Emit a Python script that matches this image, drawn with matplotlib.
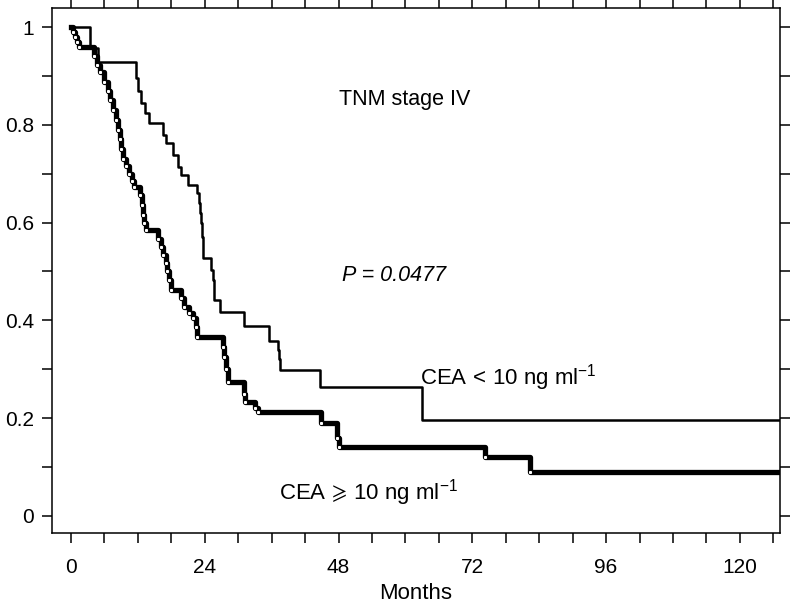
import matplotlib
matplotlib.use("Agg")
import matplotlib.pyplot as plt
from matplotlib import font_manager as fm
from matplotlib.ticker import MultipleLocator


# CEA < 10 ng/ml (thin curve): event times (months) and survival after each step
low_times = [0, 3.4, 4.8, 11.6, 12.0, 12.6, 13.2, 14.0, 16.5, 17.0, 18.3, 19.2,
             19.7, 21.0, 22.7, 22.9, 23.1, 23.3, 23.5, 23.6, 23.7, 25.1, 25.4,
             25.6, 25.7, 26.7, 31.0, 35.5, 37.1, 37.3, 37.5, 44.6, 62.9, 127.2]
low_surv = [1.0, 0.957, 0.928, 0.895, 0.87, 0.845, 0.825, 0.804, 0.78, 0.763,
            0.738, 0.714, 0.697, 0.677, 0.66, 0.64, 0.62, 0.60, 0.57, 0.548,
            0.528, 0.503, 0.483, 0.462, 0.442, 0.417, 0.389, 0.358, 0.34, 0.32,
            0.298, 0.264, 0.197, 0.197]

# CEA >= 10 ng/ml (thick curve)
high_times = [0, 0.3, 0.7, 1.1, 1.4, 4.1, 4.7, 5.2, 5.9, 6.6, 7.0, 7.5, 8.1,
              8.4, 8.8, 9.0, 9.3, 9.9, 10.4, 10.9, 11.3, 12.4, 12.7, 12.9, 13.1,
              13.4, 15.6, 16.1, 16.6, 17.0, 17.3, 17.6, 17.9, 19.7, 20.2, 21.1,
              21.9, 22.4, 22.7, 27.2, 27.4, 27.8, 28.1, 31.0, 31.3, 33.1, 33.5,
              44.8, 47.8, 48.1, 74.3, 82.4, 127.2]
high_surv = [1.0, 0.99, 0.98, 0.97, 0.959, 0.94, 0.922, 0.908, 0.888, 0.87,
             0.85, 0.83, 0.81, 0.79, 0.77, 0.75, 0.73, 0.715, 0.70, 0.685,
             0.673, 0.656, 0.636, 0.616, 0.60, 0.585, 0.567, 0.55, 0.533,
             0.517, 0.50, 0.483, 0.462, 0.445, 0.427, 0.415, 0.405, 0.386,
             0.366, 0.345, 0.325, 0.30, 0.274, 0.25, 0.233, 0.22, 0.213, 0.19,
             0.16, 0.141, 0.121, 0.09, 0.09]

x_ticks = [0, 24, 48, 72, 96, 120]
y_ticks = [0, 0.2, 0.4, 0.6, 0.8, 1.0]
y_tick_labels = ["0", "0.2", "0.4", "0.6", "0.8", "1"]


def pick_font():
    names = {f.name for f in fm.fontManager.ttflist}
    for name in ["Liberation Sans Narrow", "Liberation Sans", "DejaVu Sans"]:
        if name in names:
            return name
    return "DejaVu Sans"


font = pick_font()
plt.rcParams["font.family"] = [font, "DejaVu Sans"]
plt.rcParams["mathtext.fontset"] = "custom"
plt.rcParams["mathtext.rm"] = font
plt.rcParams["mathtext.it"] = font + ":italic"
plt.rcParams["mathtext.fallback"] = "stixsans"

fig = plt.figure(figsize=(7.96, 6.06), dpi=100)
ax = fig.add_axes([52 / 796, 1 - 533 / 606, 728 / 796, 525 / 606])

ax.step(low_times, low_surv, where="post", color="black", lw=1.8)
ax.step(high_times, high_surv, where="post", color="black", lw=3.8)
# little white censor dots sitting on the thick line
ax.plot(high_times[1:-1], high_surv[1:-1], ls="none", marker="s",
        ms=1.2, mfc="white", mec="white")

ax.set_xlim(-3.4, 127.2)
ax.set_ylim(-0.035, 1.039)

ax.set_xticks(x_ticks)
ax.set_yticks(y_ticks)
ax.set_yticklabels(y_tick_labels)
ax.xaxis.set_minor_locator(MultipleLocator(6))
ax.yaxis.set_minor_locator(MultipleLocator(0.1))
ax.tick_params(which="both", direction="out", length=7, width=1.1,
               top=True, right=True, labelsize=15)
ax.tick_params(axis="x", which="both", pad=11)
ax.tick_params(axis="y", which="both", pad=6)

for s in ax.spines.values():
    s.set_linewidth(1.1)

ax.set_xlabel("Months", fontsize=16, labelpad=4)

ax.text(59.8, 0.851, "TNM stage IV", fontsize=15.5, ha="center", va="center")
ax.text(57.9, 0.491, "P = 0.0477", fontsize=15.5, style="italic",
        ha="center", va="center")
ax.text(62.7, 0.282, r"CEA$\,<\,$10 ng ml$^{-1}$", fontsize=16,
        ha="left", va="center")
ax.text(37.3, 0.047, r"CEA$\,\geqslant\,$10 ng ml$^{-1}$", fontsize=16,
        ha="left", va="center")

fig.savefig("out.png", dpi=100)
